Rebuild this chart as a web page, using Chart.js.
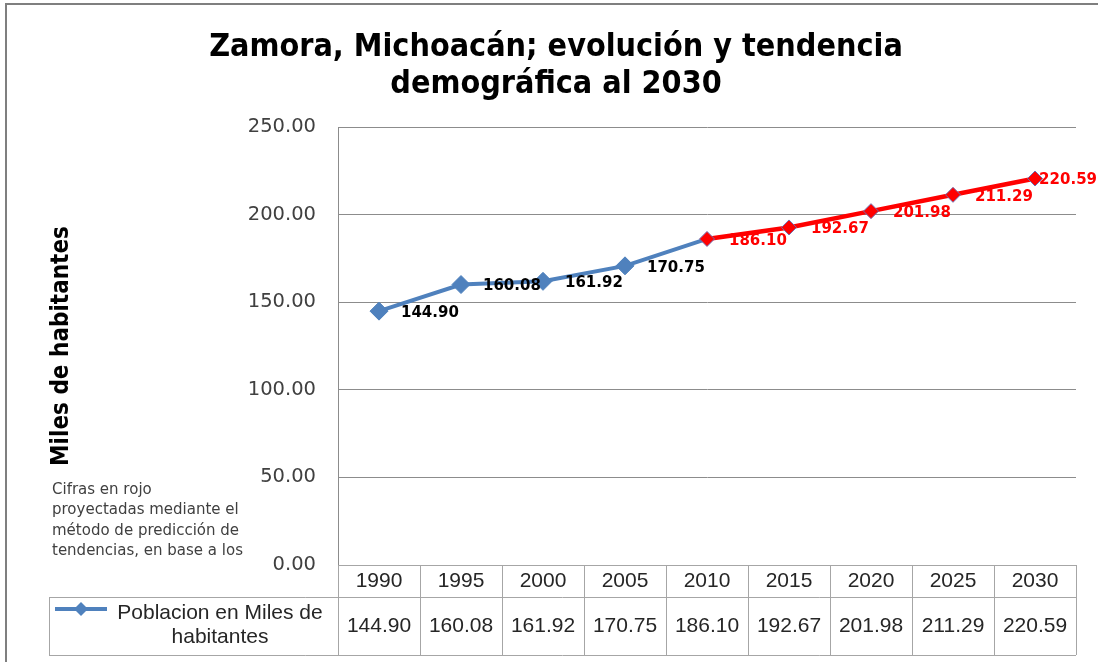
<!DOCTYPE html>
<html><head><meta charset="utf-8">
<script src="https://cdn.jsdelivr.net/npm/chart.js@4.4.1/dist/chart.umd.min.js"></script>
<style>html,body{margin:0;padding:0;background:#fff;overflow:hidden}canvas{display:block;background:#fff}</style>
</head><body>
<canvas id="c" width="1098" height="662"></canvas>
<script>
const years = ['1990','1995','2000','2005','2010','2015','2020','2025','2030'];
const historico = [144.90, 160.08, 161.92, 170.75, 186.10, null, null, null, null];
const proyeccion = [null, null, null, null, 186.10, 192.67, 201.98, 211.29, 220.59];
const yTickValues = [0, 50, 100, 150, 200, 250];
const titleLines = ['Zamora, Michoacán; evolución y tendencia', 'demográfica al 2030'];
const yTitle = 'Miles de habitantes';
const seriesName = ['Poblacion en Miles de', 'habitantes'];
const noteLines = ['Cifras en rojo', 'proyectadas mediante el', 'método de predicción de', 'tendencias, en base a los'];

const BLUE = '#4F81BD', RED = '#FF0000', GRID = '#8c8c8c', TABLE = '#a6a6a6', TXT = '#262626';
const valueAt = i => (historico[i] != null ? historico[i] : proyeccion[i]);
const isProj = i => proyeccion[i] != null;

const framePlugin = {
  id: 'frame',
  beforeDraw(chart) {
    const ctx = chart.ctx;
    ctx.save();
    ctx.strokeStyle = '#7f7f7f'; ctx.lineWidth = 2;
    ctx.strokeRect(6, 4, 1300, 900);
    ctx.fillStyle = '#000';
    ctx.font = 'bold 32px "Liberation Sans Narrow", "DejaVu Sans Condensed", sans-serif';
    ctx.textAlign = 'center'; ctx.textBaseline = 'alphabetic';
    ctx.fillText(titleLines[0], 556, 56);
    ctx.fillText(titleLines[1], 556, 93);
    ctx.fillStyle = '#404040';
    ctx.font = '15px "DejaVu Sans", sans-serif';
    ctx.textAlign = 'left'; ctx.textBaseline = 'middle';
    noteLines.forEach((t, k) => ctx.fillText(t, 52, 490 + k * 20.5));
    ctx.restore();
  }
};

const labelPlugin = {
  id: 'vlabels',
  afterDatasetsDraw(chart) {
    const ctx = chart.ctx;
    ctx.save();
    ctx.font = 'bold 15px "DejaVu Sans", sans-serif';
    ctx.textAlign = 'left'; ctx.textBaseline = 'middle';
    years.forEach((y, i) => {
      const proj = isProj(i);
      const meta = chart.getDatasetMeta(proj ? 0 : 1);
      const pt = meta.data[i];
      const txt = valueAt(i).toFixed(2);
      const w = ctx.measureText(txt).width;
      let x = pt.x + 22;
      if (x + w > chart.width - 1) x = chart.width - 1 - w;
      ctx.fillStyle = proj ? RED : '#000';
      ctx.fillText(txt, x, pt.y + 2);
    });
    ctx.restore();
  }
};

const tablePlugin = {
  id: 'datatable',
  afterDraw(chart) {
    const ctx = chart.ctx, xs = chart.scales.x, ca = chart.chartArea;
    const step = (ca.right - ca.left) / years.length;
    const top = ca.bottom, mid = ca.bottom + 32, bot = ca.bottom + 90, legL = 49;
    ctx.save();
    ctx.strokeStyle = TABLE; ctx.lineWidth = 1;
    ctx.beginPath();
    ctx.moveTo(ca.left, top + 0.5); ctx.lineTo(ca.right, top + 0.5);
    ctx.moveTo(legL, mid + 0.5); ctx.lineTo(ca.right, mid + 0.5);
    ctx.moveTo(legL, bot + 0.5); ctx.lineTo(ca.right, bot + 0.5);
    ctx.moveTo(legL + 0.5, mid); ctx.lineTo(legL + 0.5, bot);
    for (let i = 0; i <= years.length; i++) {
      const x = Math.round(xs.getPixelForValue(Math.min(i, years.length - 1)) + (i === years.length ? step / 2 : -step / 2)) + 0.5;
      ctx.moveTo(x, top); ctx.lineTo(x, bot);
    }
    ctx.stroke();
    ctx.fillStyle = TXT;
    ctx.font = '21px "Liberation Sans", sans-serif';
    ctx.textAlign = 'center'; ctx.textBaseline = 'middle';
    years.forEach((y, i) => {
      const cx = xs.getPixelForValue(i);
      ctx.fillText(y, cx, top + 16);
      ctx.fillText(valueAt(i).toFixed(2), cx, mid + 29);
    });
    ctx.fillText(seriesName[0], 220, mid + 16);
    ctx.fillText(seriesName[1], 220, mid + 40);
    ctx.strokeStyle = BLUE; ctx.lineWidth = 4;
    ctx.beginPath(); ctx.moveTo(55, mid + 12); ctx.lineTo(107, mid + 12); ctx.stroke();
    ctx.fillStyle = BLUE;
    ctx.beginPath();
    const dx = 81, dy = mid + 12, r = 7;
    ctx.moveTo(dx - r, dy); ctx.lineTo(dx, dy - r); ctx.lineTo(dx + r, dy); ctx.lineTo(dx, dy + r); ctx.closePath(); ctx.fill();
    ctx.restore();
  }
};

new Chart(document.getElementById('c'), {
  type: 'line',
  data: {
    labels: years,
    datasets: [
      {
        label: 'Proyección',
        data: proyeccion,
        borderColor: RED, borderWidth: 4.5,
        pointStyle: 'rectRot', pointRadius: 7.5,
        pointBackgroundColor: RED, pointBorderColor: '#6f6fb0', pointBorderWidth: 1,
        spanGaps: false, tension: 0
      },
      {
        label: 'Poblacion en Miles de habitantes',
        data: historico,
        borderColor: BLUE, borderWidth: 4,
        pointStyle: 'rectRot', pointRadius: historico.map((v, i) => isProj(i) ? 0 : 9),
        pointBackgroundColor: BLUE, pointBorderColor: BLUE, pointBorderWidth: 1,
        spanGaps: false, tension: 0
      }
    ]
  },
  options: {
    responsive: false, animation: false, devicePixelRatio: 1,
    layout: { padding: { top: 127, right: 22, bottom: 97, left: 0 } },
    plugins: { legend: { display: false }, title: { display: false }, tooltip: { enabled: false } },
    scales: {
      x: { type: 'category', display: false, offset: true },
      y: {
        min: 0, max: 250,
        afterBuildTicks: s => { s.ticks = yTickValues.map(v => ({ value: v })); },
        afterFit: s => { s.width = 338; },
        ticks: { padding: 22, color: '#404040', font: { family: '"DejaVu Sans", sans-serif', size: 19.5 }, callback: v => Number(v).toFixed(2) },
        grid: { color: GRID, drawTicks: false, lineWidth: 1 },
        border: { color: GRID, width: 1 },
        title: { display: true, text: yTitle, color: '#000', padding: { top: 47, bottom: 0 },
          font: { family: '"Liberation Sans Narrow", "DejaVu Sans Condensed", sans-serif', weight: 'bold', size: 24 } }
      }
    }
  },
  plugins: [framePlugin, labelPlugin, tablePlugin]
});
</script>
</body></html>
